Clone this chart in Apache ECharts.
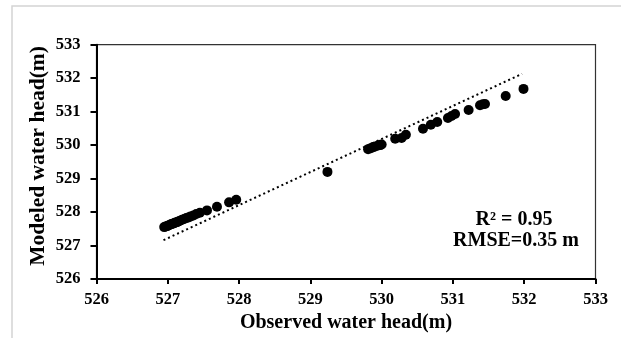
<!DOCTYPE html>
<html><head><meta charset="utf-8">
<script src="https://cdn.jsdelivr.net/npm/echarts@6/dist/echarts.min.js"></script>
<style>html,body{margin:0;padding:0;background:#fff}#c{width:621px;height:338px}</style>
</head><body><div id="c"></div>
<script>
const observed = [526.95,526.97,526.99,527.01,527.03,527.05,527.07,527.09,527.11,527.13,527.15,527.17,527.20,527.23,527.26,527.29,527.32,527.36,527.40,527.45,
  527.55,527.69,527.86,527.96,
  529.24,
  529.81,529.85,529.88,529.91,529.95,529.98,530.00,
  530.19,530.28,530.34,530.58,530.69,530.78,530.93,530.98,531.03,531.22,531.38,531.42,531.45,531.74,531.99];
const modeled = [527.55,527.57,527.58,527.60,527.62,527.64,527.65,527.67,527.69,527.70,527.72,527.74,527.77,527.79,527.82,527.84,527.87,527.90,527.94,527.98,
  528.05,528.16,528.29,528.37,
  529.20,
  529.88,529.91,529.94,529.96,529.99,530.00,530.02,
  530.19,530.21,530.31,530.49,530.61,530.69,530.81,530.87,530.93,531.05,531.19,531.22,531.23,531.47,531.68];
const trendX = [526.94, 531.97];
const trendY = [527.16, 532.13];
const xTicks = [526,527,528,529,530,531,532,533];
const yTicks = [526,527,528,529,530,531,532,533];
const annotations = ['R\u00B2 = 0.95', 'RMSE=0.35 m'];
const xTitle = 'Observed water head(m)';
const yTitle = 'Modeled water head(m)';

const font = '"Liberation Serif","Times New Roman",serif';
const chart = echarts.init(document.getElementById('c'), null, {renderer:'canvas'});
chart.setOption({
  animation:false,
  backgroundColor:'#fff',
  grid:{left:96.5, right:25.5, top:44.7, bottom:55.3, show:true, borderColor:'#333', borderWidth:1.2},
  xAxis:{type:'value', min:xTicks[0], max:xTicks[xTicks.length-1], interval:1,
    name:xTitle, nameLocation:'middle', nameGap:34,
    nameTextStyle:{fontFamily:font, fontWeight:'bold', fontSize:20, color:'#000'},
    axisLine:{show:true, lineStyle:{color:'#000', width:2}},
    axisTick:{show:true, inside:false, length:5, lineStyle:{color:'#000', width:2}},
    axisLabel:{fontFamily:font, fontWeight:'bold', fontSize:16.5, color:'#000', margin:12},
    splitLine:{show:false}},
  yAxis:{type:'value', min:yTicks[0], max:yTicks[yTicks.length-1], interval:1,
    name:'', 
    axisLine:{show:true, lineStyle:{color:'#000', width:2}},
    axisTick:{show:true, inside:false, length:6, lineStyle:{color:'#000', width:2}},
    axisLabel:{fontFamily:font, fontWeight:'bold', fontSize:16.5, color:'#000', margin:16},
    splitLine:{show:false}},
  series:[
    {type:'line', data:trendX.map((x,i)=>[x,trendY[i]]), symbol:'none',
      lineStyle:{color:'#000', width:2, type:[2,3]}, z:1},
    {type:'scatter', data:observed.map((x,i)=>[x,modeled[i]]), symbol:'circle', symbolSize:10,
      itemStyle:{color:'#000', opacity:1}, z:2}
  ],
  graphic:[
    {type:'rect', shape:{x:12, y:6, width:640, height:360}, style:{fill:'none', stroke:'#d4d4d4', lineWidth:1.5}, silent:true},
    {type:'text', x:38, y:156, rotation:Math.PI/2, style:{text:yTitle, font:'bold 21.5px '+font, fill:'#000', align:'center', verticalAlign:'middle'}},
    {type:'text', x:514, y:220, style:{text:annotations[0], font:'bold 20px '+font, fill:'#000', align:'center', verticalAlign:'middle'}},
    {type:'text', x:516, y:241, style:{text:annotations[1], font:'bold 20px '+font, fill:'#000', align:'center', verticalAlign:'middle'}}
  ]
});
</script></body></html>
